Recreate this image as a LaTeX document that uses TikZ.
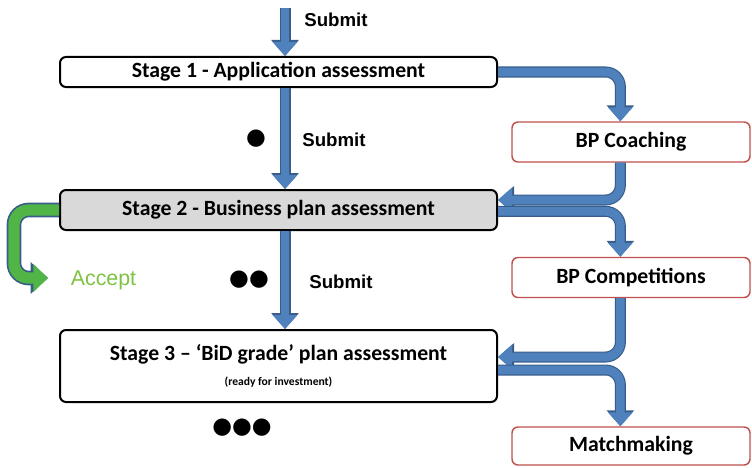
\documentclass[tikz,border=0pt]{standalone}
\usepackage{fontspec}
\setmainfont{Carlito}
\newfontfamily\arialfont{Liberation Sans}
\newfontfamily\dotfont{DejaVu Sans}
\usetikzlibrary{arrows.meta}
\definecolor{flowblue}{RGB}{79,129,189}
\definecolor{flowedge}{RGB}{56,93,138}
\definecolor{boxred}{RGB}{192,80,77}
\definecolor{stagegray}{RGB}{217,217,217}
\definecolor{acceptgreen}{RGB}{80,180,70}
\definecolor{accepttext}{RGB}{125,195,65}
\tikzset{
  stage/.style={draw=black, line width=1.5pt, rounded corners=4.5pt, fill=white,
    minimum width=327.75pt, inner sep=0pt, font=\bfseries\fontsize{16.3}{18}\selectfont},
  support/.style={draw=boxred, line width=1.1pt, rounded corners=4.5pt, fill=white,
    minimum width=178.5pt, minimum height=30pt, inner sep=0pt, font=\bfseries\fontsize{16.3}{18}\selectfont},
  submit/.style={font=\arialfont\bfseries\fontsize{14}{16}\selectfont},
  dots/.style={inner sep=0pt, font=\dotfont\fontsize{17}{17}\selectfont},
  flow/.style={preaction={draw=flowedge, line width=8.25pt, -{Triangle[width=20pt,length=12pt]}},
    draw=flowblue, line width=6.5pt, -{Triangle[width=18pt,length=10.5pt]}, rounded corners=11pt},
  accflow/.style={preaction={draw=flowedge, line width=11pt, -{Triangle[width=23pt,length=13pt]}},
    draw=acceptgreen, line width=8.5pt, -{Triangle[width=20.5pt,length=11pt]}, rounded corners=11pt}
}
\begin{document}
\begin{tikzpicture}[x=0.75pt,y=-0.75pt]
  \useasboundingbox (0,0) rectangle (752,467);
  % stages
  \node[stage, minimum height=22.5pt] (s1) at (278.5,72) {Stage 1 - Application assessment};
  \node[stage, fill=stagegray, minimum height=30pt] (s2) at (278.5,210) {Stage 2 - Business plan assessment};
  \node[stage, minimum height=54pt, align=center] (s3) at (278.5,366)
    {Stage 3 – ‘BiD grade’ plan assessment\\[1pt]{\fontsize{8.7}{10}\selectfont (ready for investment)}};
  % support boxes
  \node[support] (coach) at (631,142) {BP Coaching};
  \node[support] (comp) at (631,277.5) {BP Competitions};
  \node[support, minimum height=28.5pt] (match) at (631,446) {Matchmaking};
  % labels
  \node[submit] (sub1) at (336,20) {Submit};
  \node[submit] (sub2) at (334,140) {Submit};
  \node[submit] (sub3) at (341,282) {Submit};
  \node[dots] (d1) at (256,139) {●};
  \node[dots] (d2) at (249,280) {●●};
  \node[dots] (d3) at (242,428) {●●●};
  \node[font=\arialfont\fontsize{16}{18}\selectfont, text=accepttext] (acc) at (103.5,280) {Accept};
  \coordinate (in) at (285,8);
  \coordinate (acctip) at (48,278);
  % main flow
  \draw[flow] (in) -- (in |- s1.north);
  \draw[flow] (in |- s1.south) -- (in |- s2.north);
  \draw[flow] (in |- s2.south) -- (in |- s3.north);
  % side flows
  \draw[flow] (s1.east) -| ([xshift=-8pt]coach.north);
  \draw[flow] ([xshift=-8pt]coach.south) |- ([yshift=7.5pt]s2.east);
  \draw[flow] ([yshift=-1pt]s2.east) -| ([xshift=-8pt]comp.north);
  \draw[flow] ([xshift=-8pt]comp.south) |- ([yshift=6.75pt]s3.east);
  \draw[flow] ([yshift=-3pt]s3.east) -| ([xshift=-8pt]match.north);
  \draw[accflow] (s2.west) -- ++(-45,0) |- (acctip);
\end{tikzpicture}
\end{document}
